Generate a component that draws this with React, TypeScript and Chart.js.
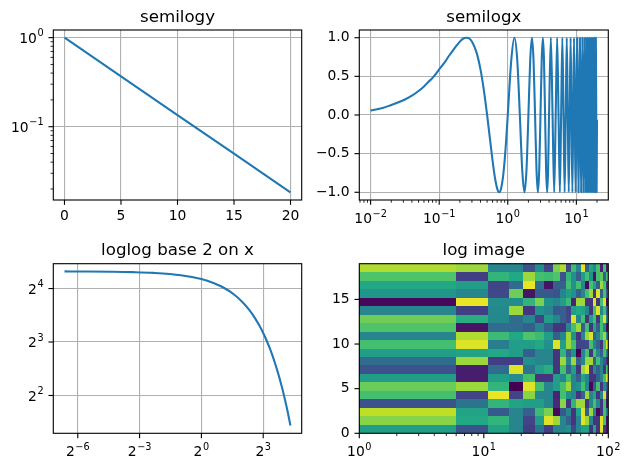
import { useEffect, useRef } from 'react';
import { Chart, registerables } from 'chart.js';

Chart.register(...registerables);

const FIG_W = 630;
const FIG_H = 469;
const FONT = '"DejaVu Sans", "Liberation Sans", sans-serif';
const LINE_COLOR = '#1f77b4';
const GRID_COLOR = '#b0b0b0';
const Y_AXIS_W = 50;
const X_AXIS_H = 30;
const LABEL_SIZE = 13.89;
const SUP_SIZE = 9.72;

// ---- semilogy: exponential decay ----
const semilogyT = [0.01, 5, 10, 15, 19.99];
const semilogyY = [0.998, 0.368, 0.135, 0.0498, 0.0183];

// ---- semilogx: oscillation ----
const semilogxT = [
  0.01, 0.015, 0.02, 0.03, 0.04, 0.05, 0.06, 0.07, 0.08,
  0.1, 0.12, 0.14, 0.16, 0.18, 0.2,
  0.225, 0.25, 0.275, 0.3,
  0.35, 0.4, 0.45, 0.5, 0.55, 0.6, 0.65, 0.7, 0.75, 0.8, 0.85, 0.9, 0.95, 1.0,
  1.125, 1.25, 1.375, 1.5, 1.625, 1.75, 1.875, 2.0,
  2.125, 2.25, 2.375, 2.5, 2.625, 2.75, 2.875, 3.0,
  3.125, 3.25, 3.375, 3.5, 3.625, 3.75, 3.875, 4.0,
  4.25, 4.5, 4.75, 5.0,
  5.25, 5.5, 5.75, 6.0,
  6.25, 6.5, 6.75, 7.0,
  7.25, 7.5, 7.75, 8.0,
  8.25, 8.5, 8.75, 9.0,
  9.25, 9.5, 9.75, 10.0,
  10.25, 10.5, 10.75, 11.0,
  11.25, 11.5, 11.75, 12.0,
  12.25, 12.5, 12.75, 13.0,
  13.25, 13.5, 13.75, 14.0,
  14.25, 14.5, 14.75, 15.0,
  15.25, 15.5, 15.75, 16.0,
  16.25, 16.5, 16.75, 17.0,
  17.25, 17.5, 17.75, 18.0,
  18.25, 18.5, 18.75, 19.0,
  19.25, 19.5, 19.75, 19.99,
];
const semilogxY = [
  0.06, 0.09, 0.13, 0.19, 0.25, 0.31, 0.37, 0.43, 0.48,
  0.59, 0.68, 0.77, 0.84, 0.9, 0.95,
  0.99, 1.0, 0.99, 0.95,
  0.81, 0.59, 0.31, 0.0, -0.31, -0.59, -0.81, -0.95, -1.0, -0.95, -0.81, -0.59, -0.31, 0.0,
  0.71, 1, 0.71, 0, -0.71, -1, -0.71, 0,
  0.71, 1, 0.71, 0, -0.71, -1, -0.71, 0,
  0.71, 1, 0.71, 0, -0.71, -1, -0.71, 0,
  1, 0, -1, 0,
  1, 0, -1, 0,
  1, 0, -1, 0,
  1, 0, -1, 0,
  1, 0, -1, 0,
  1, 0, -1, 0,
  1, 0, -1, 0,
  1, 0, -1, 0,
  1, 0, -1, 0,
  1, 0, -1, 0,
  1, 0, -1, 0,
  1, 0, -1, 0,
  1, 0, -1, 0,
  1, 0, -1, 0,
  1, 0, -1, 0,
  1, 0, -1, -0.06,
];

// ---- loglog base 2 on x ----
const loglogT = [0.01, 0.02, 0.05, 0.1, 0.2, 0.5, 1, 1.5, 2, 3, 4, 5, 6, 7, 8, 9, 10, 11, 12, 13, 14, 15, 16, 17, 18, 19, 19.99];
const loglogY = [19.98, 19.96, 19.9, 19.8, 19.6, 19.02, 18.1, 17.21, 16.37, 14.82, 13.41, 12.13, 10.98, 9.93, 8.99, 8.13, 7.36, 6.66, 6.02, 5.45, 4.93, 4.46, 4.04, 3.65, 3.31, 2.99, 2.71];

// ---- log image: cell edges and values (each column listed top row first) ----
const imageXEdges = [1, 5.95, 10.9, 15.85, 20.8, 25.75, 30.7, 35.65, 40.6, 45.55, 50.5, 55.45, 60.4, 65.35, 70.3, 75.25, 80.2, 85.15, 90.1, 95.05, 100];
const imageYEdges = [0, 0.95, 1.9, 2.85, 3.8, 4.75, 5.7, 6.65, 7.6, 8.55, 9.5, 10.45, 11.4, 12.35, 13.3, 14.25, 15.2, 16.15, 17.1, 18.05, 19];
const imageColumns = [
  [0.88, 0.72, 0.6, 0.52, 0.02, 0.45, 0.78, 0.72, 0.45, 0.7, 0.55, 0.35, 0.25, 0.55, 0.77, 0.7, 0.25, 0.9, 0.82, 0.55],
  [0.85, 0.18, 0.55, 0.45, 0.97, 0.18, 0.62, 0.05, 0.88, 0.95, 0.58, 0.85, 0.08, 0.08, 0.85, 0.2, 0.38, 0.58, 0.6, 0.25],
  [0.45, 0.65, 0.2, 0.22, 0.48, 0.47, 0.47, 0.35, 0.68, 0.42, 0.6, 0.18, 0.35, 0.55, 0.65, 0.97, 0.65, 0.28, 0.65, 0.58],
  [0.45, 0.6, 0.35, 0.78, 0.48, 0.85, 0.35, 0.35, 0.6, 0.55, 0.55, 0.18, 0.95, 0.48, 0.0, 0.2, 0.58, 0.45, 0.45, 0.45],
  [0.25, 0.85, 0.97, 0.05, 0.65, 0.15, 0.45, 0.3, 0.72, 0.55, 0.3, 0.5, 0.38, 0.7, 0.95, 0.82, 0.55, 0.3, 0.2, 0.18],
  [0.48, 0.7, 0.35, 0.28, 0.8, 0.5, 0.2, 0.45, 0.68, 0.6, 0.45, 0.45, 0.55, 0.15, 0.7, 0.45, 0.55, 0.68, 0.55, 0.38],
  [0.2, 0.68, 0.05, 0.28, 0.5, 0.45, 0.55, 0.3, 0.55, 0.5, 0.45, 0.45, 0.62, 0.15, 0.45, 0.45, 0.45, 0.8, 0.95, 0.18],
  [0.8, 0.72, 0.3, 0.25, 0.45, 0.28, 0.45, 0.15, 0.3, 0.95, 0.15, 0.15, 0.15, 0.55, 0.55, 0.1, 0.12, 0.02, 0.85, 0.45],
  [0.88, 0.25, 0.3, 0.45, 0.55, 0.3, 0.3, 0.15, 0.45, 0.55, 0.65, 0.85, 0.7, 0.45, 0.7, 0.7, 0.82, 0.28, 0.45, 0.45],
  [0.22, 0.65, 0.7, 0.55, 0.68, 0.2, 0.22, 0.45, 0.85, 0.85, 0.3, 0.45, 0.3, 0.7, 0.85, 0.5, 0.15, 0.45, 0.3, 0.5],
  [0.68, 0.5, 0.5, 0.5, 0.1, 0.55, 0.95, 0.7, 0.5, 0.7, 0.5, 0.85, 0.55, 0.45, 0.45, 0.45, 0.65, 0.15, 0.15, 0.22],
  [0.45, 0.3, 0.7, 0.3, 0.85, 0.6, 0.45, 0.85, 0.15, 0.2, 0.0, 0.3, 0.15, 0.3, 0.5, 0.15, 0.85, 0.58, 0.45, 0.45],
  [0.96, 0.55, 0.45, 0.45, 0.85, 0.58, 0.7, 0.3, 0.45, 0.2, 0.45, 0.45, 0.85, 0.58, 0.7, 0.3, 0.85, 0.95, 0.95, 0.58],
  [0.3, 0.7, 0.02, 0.7, 0.15, 0.45, 0.15, 0.7, 0.85, 0.22, 0.7, 0.85, 0.95, 0.45, 0.45, 0.85, 0.15, 0.3, 0.85, 0.58],
  [0.58, 0.5, 0.7, 0.85, 0.15, 0.15, 0.55, 0.15, 0.95, 0.7, 0.15, 0.85, 0.15, 0.15, 0.02, 0.45, 0.45, 0.85, 0.45, 0.15],
  [0.45, 0.05, 0.58, 0.15, 0.95, 0.7, 0.7, 0.58, 0.3, 0.45, 0.7, 0.3, 0.45, 0.15, 0.3, 0.58, 0.7, 0.45, 0.15, 0.58],
  [0.7, 0.7, 0.3, 0.95, 0.15, 0.95, 0.15, 0.3, 0.45, 0.3, 0.45, 0.7, 0.3, 0.3, 0.7, 0.15, 0.45, 0.02, 0.15, 0.15],
  [0.1, 0.75, 0.85, 0.3, 0.7, 0.45, 0.7, 0.7, 0.7, 0.15, 0.3, 0.45, 0.45, 0.45, 0.15, 0.45, 0.15, 0.15, 0.95, 0.95],
  [0.7, 0.3, 0.7, 0.7, 0.95, 0.7, 0.95, 0.45, 0.85, 0.7, 0.7, 0.3, 0.15, 0.7, 0.45, 0.95, 0.7, 0.7, 0.7, 0.15],
  [0.1, 0.7, 0.15, 0.3, 0.05, 0.3, 0.45, 0.05, 0.45, 0.95, 0.45, 0.15, 0.7, 0.95, 0.3, 0.15, 0.05, 0.45, 0.05, 0.05],
];

const VIRIDIS = ['#440154', '#482475', '#414487', '#355f8d', '#2a788e', '#21918c', '#22a884', '#44bf70', '#7ad151', '#bddf26', '#fde725'];

function viridis(v: number): string {
  const t = Math.min(1, Math.max(0, v)) * (VIRIDIS.length - 1);
  const i = Math.min(VIRIDIS.length - 2, Math.floor(t));
  const f = t - i;
  const a = VIRIDIS[i], b = VIRIDIS[i + 1];
  const ch = (h: string, k: number) => parseInt(h.slice(1 + 2 * k, 3 + 2 * k), 16);
  const mix = (k: number) => Math.round(ch(a, k) + (ch(b, k) - ch(a, k)) * f);
  return `rgb(${mix(0)},${mix(1)},${mix(2)})`;
}

// ---- tick definitions (exp: superscript exponent drawn after the base) ----
type Tick = { v: number; label: string; exp?: string; major: boolean };
const major = (v: number, label: string, exp?: string): Tick => ({ v, label, exp, major: true });
const minor = (v: number): Tick => ({ v, label: '', major: false });

const semilogyXTicks = [major(0, '0'), major(5, '5'), major(10, '10'), major(15, '15'), major(20, '20')];
const semilogyYTicks = [
  minor(0.02), minor(0.03), minor(0.04), minor(0.05), minor(0.06), minor(0.07), minor(0.08), minor(0.09),
  major(0.1, '10', '−1'),
  minor(0.2), minor(0.3), minor(0.4), minor(0.5), minor(0.6), minor(0.7), minor(0.8), minor(0.9),
  major(1, '10', '0'),
];
const semilogxXTicks = [
  minor(0.007), minor(0.008), minor(0.009),
  major(0.01, '10', '−2'),
  minor(0.02), minor(0.03), minor(0.04), minor(0.05), minor(0.06), minor(0.07), minor(0.08), minor(0.09),
  major(0.1, '10', '−1'),
  minor(0.2), minor(0.3), minor(0.4), minor(0.5), minor(0.6), minor(0.7), minor(0.8), minor(0.9),
  major(1, '10', '0'),
  minor(2), minor(3), minor(4), minor(5), minor(6), minor(7), minor(8), minor(9),
  major(10, '10', '1'),
  minor(20),
];
const semilogxYTicks = [major(-1, '−1.0'), major(-0.5, '−0.5'), major(0, '0.0'), major(0.5, '0.5'), major(1, '1.0')];
const loglogXTicks = [major(0.015625, '2', '−6'), major(0.125, '2', '−3'), major(1, '2', '0'), major(8, '2', '3')];
const loglogYTicks = [major(4, '2', '2'), major(8, '2', '3'), major(16, '2', '4')];
const imageXTicks = [
  major(1, '10', '0'),
  minor(2), minor(3), minor(4), minor(5), minor(6), minor(7), minor(8), minor(9),
  major(10, '10', '1'),
  minor(20), minor(30), minor(40), minor(50), minor(60), minor(70), minor(80), minor(90),
  major(100, '10', '2'),
];
const imageYTicks = [major(0, '0'), major(5, '5'), major(10, '10'), major(15, '15')];

type Box = { left: number; right: number; top: number; bottom: number };
type AxisSpec = { type: 'linear' | 'logarithmic'; min: number; max: number; ticks: Tick[] };
type Panel = {
  title: string;
  box: Box;
  x: AxisSpec;
  y: AxisSpec;
  grid: boolean;
  datasets: any[];
  extraPlugins?: any[];
};

function axisOptions(spec: AxisSpec, horizontal: boolean, grid: boolean) {
  return {
    type: spec.type,
    min: spec.min,
    max: spec.max,
    bounds: 'data',
    position: horizontal ? 'bottom' : 'left',
    afterBuildTicks: (scale: any) => {
      scale.ticks = spec.ticks.map((t) => ({ value: t.v }));
    },
    afterFit: (scale: any) => {
      if (horizontal) scale.height = X_AXIS_H;
      else scale.width = Y_AXIS_W;
    },
    ticks: {
      autoSkip: false,
      maxRotation: 0,
      minRotation: 0,
      padding: horizontal ? 3.3 : 4.86,
      color: '#000',
      font: { family: FONT, size: LABEL_SIZE },
      // labels with an exponent are typeset by the frame plugin
      callback: (_v: any, i: number) => {
        const t = spec.ticks[i];
        return t && !t.exp ? t.label : '';
      },
    },
    grid: {
      drawOnChartArea: grid,
      drawTicks: true,
      tickLength: 4.86,
      tickColor: 'rgba(0,0,0,0)',
      lineWidth: 1.11,
      color: (c: any) => (grid && spec.ticks[c.index] && spec.ticks[c.index].major ? GRID_COLOR : 'rgba(0,0,0,0)'),
    },
    border: { display: false },
  };
}

// Frame, tick marks, power labels and title around each panel
function framePlugin(panel: Panel) {
  return {
    id: 'panelFrame',
    afterDraw(chart: any) {
      const { ctx, chartArea: a } = chart;
      ctx.save();
      ctx.strokeStyle = '#000';
      ctx.fillStyle = '#000';

      const power = (t: Tick, anchorX: number, baseline: number, align: 'center' | 'right') => {
        ctx.font = `${LABEL_SIZE}px ${FONT}`;
        const wb = ctx.measureText(t.label).width;
        ctx.font = `${SUP_SIZE}px ${FONT}`;
        const we = ctx.measureText(t.exp || '').width + 0.6;
        const total = wb + we;
        const start = align === 'center' ? anchorX - total / 2 : anchorX - total;
        ctx.textAlign = 'left';
        ctx.textBaseline = 'alphabetic';
        ctx.font = `${LABEL_SIZE}px ${FONT}`;
        ctx.fillText(t.label, start, baseline);
        ctx.font = `${SUP_SIZE}px ${FONT}`;
        ctx.fillText(t.exp || '', start + wb + 0.6, baseline - 6.3);
      };

      const marks = (scale: any, ticks: Tick[], horizontal: boolean) => {
        for (const t of ticks) {
          const p = scale.getPixelForValue(t.v);
          const len = t.major ? 4.86 : 2.78;
          ctx.lineWidth = t.major ? 1.11 : 0.83;
          ctx.beginPath();
          if (horizontal) {
            ctx.moveTo(p, a.bottom);
            ctx.lineTo(p, a.bottom + len);
          } else {
            ctx.moveTo(a.left, p);
            ctx.lineTo(a.left - len, p);
          }
          ctx.stroke();
          if (t.exp !== undefined) {
            if (horizontal) power(t, p, a.bottom + 23.0, 'center');
            else power(t, a.left - 9.72, p + 5.05, 'right');
          }
        }
      };
      marks(chart.scales.x, panel.x.ticks, true);
      marks(chart.scales.y, panel.y.ticks, false);

      ctx.lineWidth = 1.11;
      ctx.strokeRect(a.left, a.top, a.right - a.left, a.bottom - a.top);

      ctx.font = `16.67px ${FONT}`;
      ctx.textAlign = 'center';
      ctx.textBaseline = 'alphabetic';
      ctx.fillText(panel.title, (a.left + a.right) / 2, a.top - 8.33);
      ctx.restore();
    },
  };
}

// Colour cells of the log image, placed through the chart's scales
const imagePlugin = {
  id: 'logImage',
  beforeDatasetsDraw(chart: any) {
    const { ctx } = chart;
    const xs = chart.scales.x;
    const ys = chart.scales.y;
    const nRows = imageYEdges.length - 1;
    ctx.save();
    imageColumns.forEach((col, c) => {
      const x0 = Math.round(xs.getPixelForValue(imageXEdges[c]));
      const x1 = Math.round(xs.getPixelForValue(imageXEdges[c + 1]));
      col.forEach((val, r) => {
        const j = nRows - 1 - r;
        const yTop = Math.round(ys.getPixelForValue(imageYEdges[j + 1]));
        const yBot = Math.round(ys.getPixelForValue(imageYEdges[j]));
        ctx.fillStyle = viridis(val);
        ctx.fillRect(x0, yTop, x1 - x0, yBot - yTop);
      });
    });
    ctx.restore();
  },
};

function lineDataset(xs: number[], ys: number[], smooth: boolean) {
  return {
    data: xs.map((x, i) => ({ x, y: ys[i] })),
    showLine: true,
    borderColor: LINE_COLOR,
    borderWidth: 2.08,
    pointRadius: 0,
    fill: false,
    cubicInterpolationMode: smooth ? 'monotone' : 'default',
    borderCapStyle: 'butt',
    borderJoinStyle: 'round',
  };
}

const COL1 = { left: 53.3, right: 301.7 };
const COL2 = { left: 359.3, right: 608.3 };
const ROW1 = { top: 30, bottom: 200 };
const ROW2 = { top: 263.7, bottom: 433.3 };

const panels: Panel[] = [
  {
    title: 'semilogy',
    box: { ...COL1, ...ROW1 },
    x: { type: 'linear', min: -0.9895, max: 20.9895, ticks: semilogyXTicks },
    y: { type: 'logarithmic', min: 0.01503, max: 1.2186, ticks: semilogyYTicks },
    grid: true,
    datasets: [lineDataset(semilogyT, semilogyY, false)],
  },
  {
    title: 'semilogx',
    box: { ...COL2, ...ROW1 },
    x: { type: 'logarithmic', min: 0.00684, max: 29.24, ticks: semilogxXTicks },
    y: { type: 'linear', min: -1.1, max: 1.1, ticks: semilogxYTicks },
    grid: true,
    datasets: [lineDataset(semilogxT, semilogxY, true)],
  },
  {
    title: 'loglog base 2 on x',
    box: { ...COL1, ...ROW2 },
    x: { type: 'logarithmic', min: 0.006856, max: 29.22, ticks: loglogXTicks },
    y: { type: 'logarithmic', min: 2.45, max: 22.08, ticks: loglogYTicks },
    grid: true,
    datasets: [lineDataset(loglogT, loglogY, true)],
  },
  {
    title: 'log image',
    box: { ...COL2, ...ROW2 },
    x: { type: 'logarithmic', min: 1, max: 100, ticks: imageXTicks },
    y: { type: 'linear', min: 0, max: 19, ticks: imageYTicks },
    grid: false,
    datasets: [{ data: [], pointRadius: 0 }],
    extraPlugins: [imagePlugin],
  },
];

function buildChart(canvas: HTMLCanvasElement, panel: Panel) {
  const b = panel.box;
  return new Chart(canvas, {
    type: 'scatter',
    data: { datasets: panel.datasets },
    options: {
      responsive: false,
      maintainAspectRatio: false,
      animation: false,
      events: [],
      layout: {
        padding: {
          left: b.left - Y_AXIS_W,
          right: FIG_W - b.right,
          top: b.top,
          bottom: FIG_H - b.bottom - X_AXIS_H,
        },
      },
      plugins: {
        legend: { display: false },
        tooltip: { enabled: false },
        title: { display: false },
      },
      scales: {
        x: axisOptions(panel.x, true, panel.grid),
        y: axisOptions(panel.y, false, panel.grid),
      },
    } as any,
    plugins: [...(panel.extraPlugins || []), framePlugin(panel)],
  });
}

export default function App() {
  const r0 = useRef<HTMLCanvasElement>(null);
  const r1 = useRef<HTMLCanvasElement>(null);
  const r2 = useRef<HTMLCanvasElement>(null);
  const r3 = useRef<HTMLCanvasElement>(null);
  const refs = [r0, r1, r2, r3];

  useEffect(() => {
    const charts = refs.map((r, i) => buildChart(r.current as HTMLCanvasElement, panels[i]));
    return () => charts.forEach((c) => c.destroy());
  }, []);

  return (
    <div style={{ position: 'fixed', left: 0, top: 0, width: FIG_W, height: FIG_H, background: '#fff' }}>
      {refs.map((r, i) => (
        <canvas
          key={i}
          ref={r}
          width={FIG_W}
          height={FIG_H}
          style={{ position: 'absolute', left: 0, top: 0, width: FIG_W, height: FIG_H }}
        />
      ))}
    </div>
  );
}
